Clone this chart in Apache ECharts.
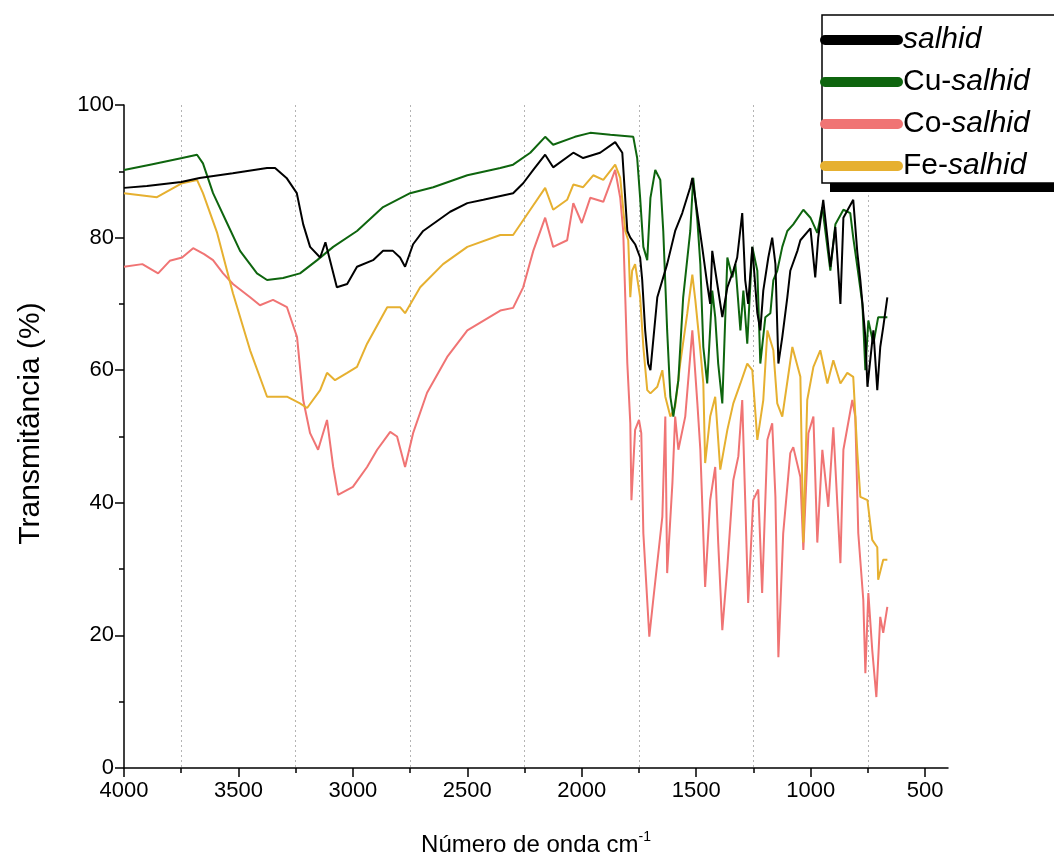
<!DOCTYPE html>
<html>
<head>
<meta charset="utf-8">
<script src="https://cdn.jsdelivr.net/npm/echarts@6/dist/echarts.min.js"></script>
<style>
  html, body { margin: 0; padding: 0; background: #fff; }
  #chart { width: 1054px; height: 868px; }
</style>
</head>
<body>
<div id="chart"></div>
<script>
// [número de onda, transmitância]
var salhid = [
  [4000,87.5],[3900,87.8],[3750,88.4],[3670,89],[3525,89.7],[3375,90.5],[3340,90.5],[3290,89],[3245,86.7],
  [3217,82],[3187,78.6],[3143,77],[3120,79.3],[3100,76.6],[3070,72.5],[3025,73],[2982,75.6],[2912,76.6],
  [2868,78],[2825,78],[2794,77],[2772,75.6],[2737,79],[2693,81],[2575,83.9],[2500,85.2],[2430,85.7],
  [2300,86.7],[2256,88.2],[2212,90.2],[2160,92.5],[2125,90.6],[2037,92.8],[1994,92],[1920,92.8],[1854,94.4],
  [1823,92.8],[1801,81],[1788,80],[1767,79],[1745,77],[1736,73.6],[1723,66],[1710,61],[1700,60],[1670,71],
  [1627,76],[1592,81],[1561,83.7],[1526,87.6],[1517,89],[1495,83.7],[1474,78.6],[1452,73],[1439,70],
  [1430,78],[1408,73],[1386,68],[1364,72.5],[1338,75],[1321,77],[1299,83.7],[1286,73.6],[1273,70],
  [1255,78.6],[1233,68.6],[1220,66],[1207,72],[1185,77],[1168,80],[1154,76],[1141,61],[1124,65],[1102,71],
  [1089,75],[1058,78],[1045,79.6],[1001,81.4],[980,74],[967,80],[945,85.7],[927,80],[914,75.6],[892,81.6],
  [870,70],[857,83],[814,85.7],[796,77.7],[783,73.6],[761,65],[752,57.5],[726,66],[709,57],[696,63.5],
  [683,66.5],[665,71]
];
var cuSalhid = [
  [4000,90.2],[3886,91],[3746,92],[3681,92.5],[3655,91.2],[3611,86.7],[3550,82.2],[3493,78],[3419,74.6],
  [3375,73.6],[3305,73.9],[3231,74.6],[3156,76.6],[3086,78.6],[2982,81],[2868,84.6],[2750,86.7],[2649,87.6],
  [2500,89.4],[2356,90.5],[2300,91],[2225,92.8],[2160,95.2],[2125,94],[2030,95.2],[1963,95.8],[1875,95.5],
  [1775,95.2],[1758,92],[1745,86],[1731,78.6],[1714,76.6],[1700,86],[1679,90.2],[1657,88.7],[1644,81],
  [1627,66],[1613,56],[1600,53],[1578,58.5],[1557,71],[1526,81],[1513,89],[1495,82.6],[1482,76],[1469,63.5],
  [1452,58],[1430,72],[1417,68],[1404,61],[1386,55],[1364,77],[1342,74],[1329,76],[1307,66],[1294,72],
  [1277,64],[1255,78.6],[1233,75],[1220,61],[1198,68],[1176,68.6],[1163,73.6],[1146,75],[1124,78.6],
  [1102,81],[1076,82],[1032,84.2],[1001,83],[971,80.7],[949,84.6],[914,75],[892,82],[857,84.2],[827,83.7],
  [814,80],[796,75.6],[774,70],[761,60],[748,67.5],[726,64],[705,68],[665,68]
];
var coSalhid = [
  [4000,75.6],[3920,76],[3851,74.6],[3800,76.5],[3746,77],[3698,78.4],[3650,77.5],[3611,76.6],[3567,74.6],
  [3524,73],[3449,71],[3406,69.8],[3349,70.6],[3288,69.5],[3244,65],[3217,55.5],[3187,50.5],[3152,48],
  [3113,52.5],[3086,45.4],[3065,41.2],[3000,42.4],[2938,45.4],[2894,48],[2837,50.7],[2807,50],[2772,45.4],
  [2737,50.5],[2676,56.6],[2588,62],[2500,66],[2356,69],[2300,69.4],[2256,72.5],[2212,78],[2160,83],
  [2125,78.6],[2064,79.6],[2037,85.2],[2000,82.2],[1963,86],[1906,85.4],[1854,90.2],[1832,86],[1819,81],
  [1810,71],[1801,61],[1788,52],[1783,40.4],[1767,51],[1750,52.5],[1740,50.5],[1731,35.4],[1705,19.8],
  [1688,25.3],[1648,37.9],[1635,53],[1627,29.4],[1604,43],[1592,53],[1578,48],[1548,53],[1517,66],
  [1495,55],[1482,48],[1461,27.3],[1439,40.4],[1417,45.4],[1404,34],[1386,20.8],[1364,30.3],[1338,43.4],
  [1316,47],[1299,55.5],[1286,40.4],[1273,24.9],[1251,40.4],[1229,42],[1212,26.4],[1189,49.5],[1168,52],
  [1154,40.9],[1141,16.7],[1120,35.4],[1089,47.5],[1076,48.4],[1045,43.9],[1032,32.9],[1010,50.5],[988,53],
  [971,34],[949,48],[923,39.4],[901,51.4],[870,30.9],[857,48],[818,55.5],[805,53],[792,35.4],[770,25.3],
  [761,14.3],[748,26.4],[731,17.8],[713,10.7],[696,22.8],[683,20.4],[665,24.3]
];
var feSalhid = [
  [4000,86.7],[3856,86.1],[3746,88.2],[3681,88.7],[3655,86.7],[3593,80.7],[3524,71.6],[3449,63],[3375,56],
  [3288,56],[3231,55],[3200,54.3],[3143,57],[3113,59.6],[3078,58.5],[3025,59.6],[2982,60.5],[2938,64],
  [2850,69.5],[2794,69.5],[2772,68.6],[2706,72.5],[2606,76],[2500,78.6],[2356,80.4],[2300,80.4],[2225,84.2],
  [2160,87.5],[2125,84.2],[2064,85.7],[2037,88],[1994,87.6],[1950,89.4],[1906,88.7],[1854,91],[1832,89],
  [1810,81],[1797,79.6],[1788,71],[1780,75],[1767,76],[1745,71],[1731,63.5],[1714,57],[1700,56.5],
  [1670,57.5],[1648,60],[1635,56],[1613,53],[1592,54.5],[1570,61],[1539,68.6],[1517,74.4],[1504,70.6],
  [1482,63],[1469,58],[1461,46],[1439,53],[1417,56],[1395,45],[1364,51],[1338,55],[1307,58],[1277,61],
  [1255,60],[1233,49.5],[1207,55.5],[1189,66],[1163,63],[1146,55],[1124,53],[1080,63.5],[1045,59],
  [1032,34],[1015,55.5],[988,60.5],[958,63],[927,58],[901,61.5],[870,58],[840,59.6],[814,59],[796,47.5],
  [783,40.9],[752,40.4],[731,34.4],[709,33.3],[705,28.4],[683,31.4],[665,31.4]
];

var seriesNames = ["salhid", "Cu-salhid", "Co-salhid", "Fe-salhid"];
var majorTicks = [4000, 3500, 3000, 2500, 2000, 1500, 1000, 500];
var minorTicks = [3750, 3250, 2750, 2250, 1750, 1250, 750];

var font = "Liberation Sans, Arial, sans-serif";
var myChart = echarts.init(document.getElementById("chart"));

var Option = {
  animation: false,
  backgroundColor: "#fff",
  grid: {
    left: 124,
    right: 106,
    top: 105,
    bottom: 100,
    containLabel: false,
    outerBoundsMode: "none"
  },
  legend: {
    data: seriesNames,
    orient: "vertical",
    left: 815,
    top: 19,
    icon: "path://M5,0 L78,0 A5,5 0 0 1 78,10 L5,10 A5,5 0 0 1 5,0 Z",
    itemWidth: 85,
    itemHeight: 10,
    itemGap: 10,
    z: 10,
    itemStyle: { borderWidth: 0 },
    formatter: function (name) {
      return name.replace("salhid", "{i|salhid}");
    },
    textStyle: {
      color: "#000",
      fontSize: 30,
      fontFamily: font,
      lineHeight: 32,
      padding: [0, 0, 0, -6],
      rich: {
        i: { fontStyle: "italic", fontSize: 30, fontFamily: font, color: "#000", lineHeight: 32 }
      }
    }
  },
  graphic: [
    { type: "rect", z: 8, shape: { x: 830, y: 183, width: 240, height: 9 }, style: { fill: "#000" } },
    { type: "rect", z: 8, shape: { x: 822, y: 15, width: 240, height: 168 }, style: { fill: "#fff", stroke: "#000", lineWidth: 1.5 } }
  ],
  xAxis: [
    {
      type: "value",
      inverse: true,
      min: 400,
      max: 4000,
      name: "Número de onda cm{sup|-1}",
      nameLocation: "middle",
      nameGap: 62,
      nameTextStyle: {
        color: "#000",
        fontSize: 24,
        fontFamily: font,
        lineHeight: 30,
        rich: {
          sup: { fontSize: 14, fontFamily: font, color: "#000", lineHeight: 30, verticalAlign: "top" }
        }
      },
      axisLine: { onZero: false, lineStyle: { color: "#000", width: 1.5 } },
      axisTick: { customValues: majorTicks, length: 9, lineStyle: { color: "#000", width: 1.5 } },
      axisLabel: {
        customValues: majorTicks,
        color: "#000",
        fontSize: 22,
        fontFamily: font,
        margin: 12,
        formatter: function (v) { return String(v); }
      },
      splitLine: { show: false }
    },
    {
      type: "value",
      inverse: true,
      min: 400,
      max: 4000,
      position: "bottom",
      axisLine: { show: false },
      axisTick: { customValues: minorTicks, length: 5, lineStyle: { color: "#000", width: 1.5 } },
      axisLabel: { show: false },
      splitLine: { show: true, lineStyle: { color: "#b4b4b4", width: 1, type: [2, 3] } }
    }
  ],
  yAxis: {
    type: "value",
    min: 0,
    max: 100,
    interval: 20,
    name: "Transmitância (%)",
    nameLocation: "middle",
    nameGap: 78,
    nameTextStyle: { color: "#000", fontSize: 30, fontFamily: font, padding: [0, 0, 0, 26] },
    axisLine: { show: true, lineStyle: { color: "#000", width: 1.5 } },
    axisTick: { show: true, length: 9, lineStyle: { color: "#000", width: 1.5 } },
    minorTick: { show: true, splitNumber: 2, length: 5, lineStyle: { color: "#000", width: 1.5 } },
    axisLabel: { color: "#000", fontSize: 22, fontFamily: font, margin: 10 },
    splitLine: { show: false }
  },
  series: [
    {
      name: "Co-salhid",
      type: "line",
      data: coSalhid,
      showSymbol: false,
      color: "#f07474",
      lineStyle: { width: 2, color: "#f07474" }
    },
    {
      name: "Fe-salhid",
      type: "line",
      data: feSalhid,
      showSymbol: false,
      color: "#e6b030",
      lineStyle: { width: 2, color: "#e6b030" }
    },
    {
      name: "Cu-salhid",
      type: "line",
      data: cuSalhid,
      showSymbol: false,
      color: "#0e650e",
      lineStyle: { width: 2, color: "#0e650e" }
    },
    {
      name: "salhid",
      type: "line",
      data: salhid,
      showSymbol: false,
      color: "#000000",
      lineStyle: { width: 2, color: "#000000" }
    }
  ]
};
myChart.setOption(Option);
</script>
</body>
</html>
